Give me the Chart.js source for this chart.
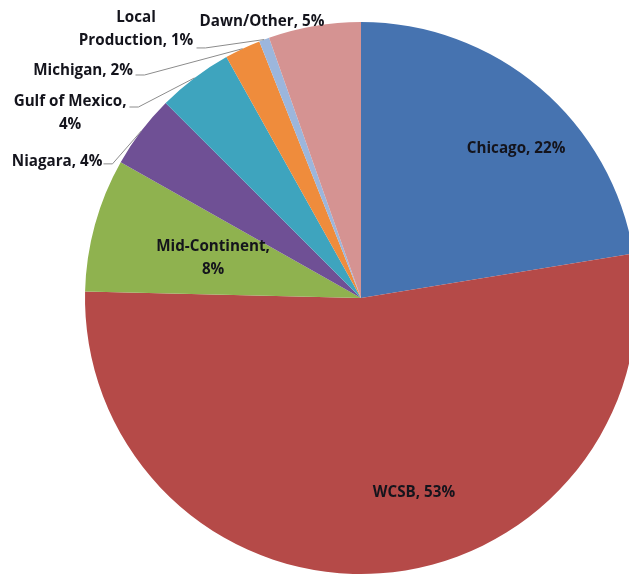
<!DOCTYPE html>
<html>
<head>
<meta charset="utf-8">
<script src="https://cdn.jsdelivr.net/npm/chart.js@4.4.0/dist/chart.umd.min.js"></script>
<style>
  html, body { margin: 0; padding: 0; background: #fff; overflow: hidden; }
  #chart { display: block; }
</style>
</head>
<body>
<canvas id="chart" width="722" height="596"></canvas>
<script>
// Supply sources, clockwise from 12 o'clock
const regions = ['Chicago', 'WCSB', 'Mid-Continent', 'Niagara', 'Gulf of Mexico', 'Michigan', 'Local Production', 'Dawn/Other'];
const shares = [22.4, 52.9, 7.8, 4.3, 4.4, 2.1, 0.6, 5.4];
const sliceColors = ['#4673b0', '#b54a48', '#8fb24f', '#6f5095', '#3ea4be', '#ef8c3c', '#9cb6dc', '#d59392'];

// Label layout, in units of pie radius measured from the centre.
// split: where the text wraps onto a second line; leader: start of the connector line
const labelLayout = [
    { at: [0.562, -0.540] },
    { at: [0.192, 0.707] },
    { at: [-0.536, -0.143], split: ', ' },
    { at: [-1.101, -0.493], leader: [-0.933, -0.486] },
    { at: [-1.054, -0.668], split: ', ', leader: [-0.839, -0.692] },
    { at: [-1.007, -0.822], leader: [-0.817, -0.808] },
    { at: [-0.815, -0.973], split: ' ', leader: [-0.596, -0.906] },
    { at: [-0.359, -1.000] }
];

const total = shares.reduce((a, b) => a + b, 0);

function labelText(i) {
    const pct = Math.round(shares[i] / total * 100);
    const text = `${regions[i]}, ${pct}%`;
    const split = labelLayout[i].split;
    if (!split) return [text];
    const k = text.indexOf(split);
    return [text.slice(0, k + (split === ', ' ? 1 : 0)), text.slice(k + split.length)];
}

const sliceLabels = {
    id: 'sliceLabels',
    afterDatasetsDraw(chart) {
        const ctx = chart.ctx;
        const arcs = chart.getDatasetMeta(0).data;
        ctx.save();
        ctx.font = 'bold 15.2px "Open Sans", "Liberation Sans", sans-serif';
        ctx.textAlign = 'center';
        ctx.textBaseline = 'middle';
        arcs.forEach((arc, i) => {
            const p = arc.getProps(['x', 'y', 'startAngle', 'endAngle', 'outerRadius'], true);
            const R = p.outerRadius;
            const lay = labelLayout[i];

            // connector from label to the middle of the slice's outer edge
            if (lay.leader) {
                const mid = (p.startAngle + p.endAngle) / 2;
                const sx = p.x + lay.leader[0] * R;
                const sy = p.y + lay.leader[1] * R;
                ctx.beginPath();
                ctx.strokeStyle = '#8c8c8c';
                ctx.lineWidth = 1;
                ctx.moveTo(sx, sy);
                ctx.lineTo(sx + 9, sy);
                ctx.lineTo(p.x + Math.cos(mid) * R, p.y + Math.sin(mid) * R);
                ctx.stroke();
            }

            const lines = labelText(i);
            const cx = p.x + lay.at[0] * R;
            const cy = p.y + lay.at[1] * R;
            const lh = 23;
            ctx.fillStyle = '#14141c';
            lines.forEach((ln, j) => {
                ctx.fillText(ln, cx, cy + (j - (lines.length - 1) / 2) * lh);
            });
        });
        ctx.restore();
    }
};

new Chart(document.getElementById('chart'), {
    type: 'pie',
    data: {
        labels: regions,
        datasets: [{
            data: shares,
            backgroundColor: sliceColors,
            borderWidth: 0
        }]
    },
    options: {
        responsive: false,
        animation: false,
        layout: { padding: { top: 22, bottom: 22, left: 0, right: 0 } },
        plugins: {
            legend: { display: false },
            tooltip: { enabled: false }
        }
    },
    plugins: [sliceLabels]
});
</script>
</body>
</html>
